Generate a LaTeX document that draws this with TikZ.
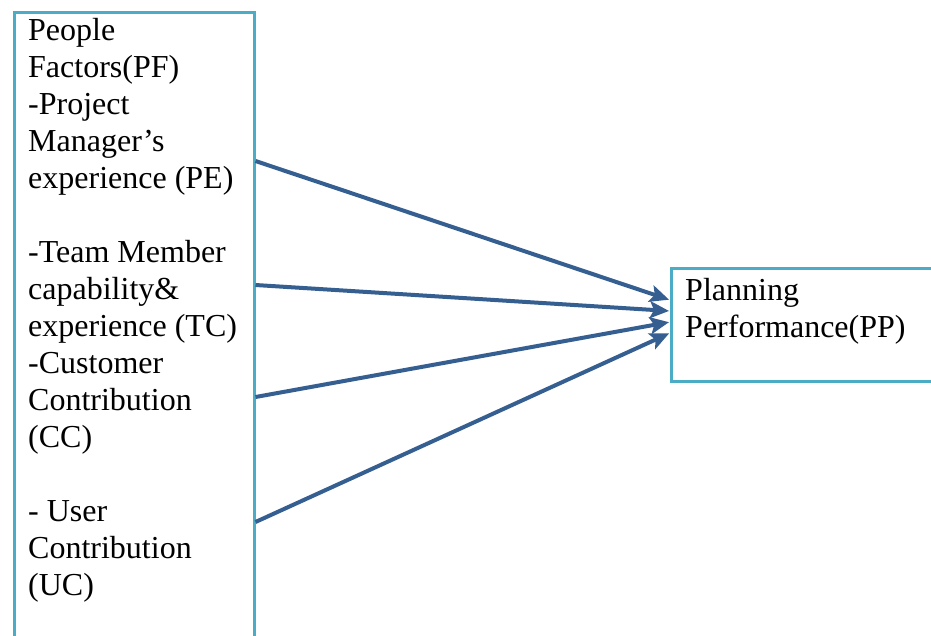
\documentclass[tikz,border=0pt]{standalone}
\usepackage{fontspec}
\setmainfont{Liberation Serif}
\usetikzlibrary{arrows.meta,positioning}
\definecolor{boxblue}{RGB}{75,172,198}
\definecolor{arrowblue}{RGB}{54,95,145}
\tikzset{
	every node/.style={
		font=\fontsize{32}{37}\selectfont
	},
	factorbox/.style={
		shape=rectangle,
		draw=boxblue,
		line width=2.5pt,
		anchor=north west,
	},
	boxtext/.style={
		align=left,
		anchor=north west,
		inner sep=0pt,
	},
	myarrow/.style={
		-{Stealth[length=19pt,width=17pt,inset=4pt]},
		draw=arrowblue,
		line width=4pt,
		shorten >=1pt,
	},
}

\begin{document}
\begin{tikzpicture}[x=1pt,y=-1pt]
	\useasboundingbox[fill=white] (0,0) rectangle (931,635);
	\clip (0,0) rectangle (931,635);
	
	% Cajas
	\node[factorbox, minimum width=240pt, minimum height=700pt] (pf) at (13,11) {};
	\node[factorbox, minimum width=300pt, minimum height=113pt] (pp) at (670,267) {};
	
	% Textos
	\node[boxtext] (pftext) at ([xshift=15pt,yshift=-7pt]pf.north west)
		{People\\Factors(PF)\\-Project\\Manager’s\\experience (PE)\\[37pt]
		-Team Member\\capability\&\\experience (TC)\\-Customer\\Contribution\\(CC)\\[37pt]
		- User\\Contribution\\(UC)};
	\node[boxtext] (pptext) at ([xshift=15pt,yshift=-11pt]pp.north west)
		{Planning\\Performance(PP)};
	
	% Puntos de salida y llegada
	\coordinate (pe) at ([yshift=-150pt]pf.north east);
	\coordinate (tc) at ([yshift=-274pt]pf.north east);
	\coordinate (cc) at ([yshift=-386pt]pf.north east);
	\coordinate (uc) at ([yshift=-511pt]pf.north east);
	\coordinate (in1) at ([yshift=-33pt]pp.north west);
	\coordinate (in2) at ([yshift=-44pt]pp.north west);
	\coordinate (in3) at ([yshift=-55pt]pp.north west);
	\coordinate (in4) at ([yshift=-66pt]pp.north west);
	
	\draw[myarrow] (pe) -- (in1);
	\draw[myarrow] (tc) -- (in2);
	\draw[myarrow] (cc) -- (in3);
	\draw[myarrow] (uc) -- (in4);
	
\end{tikzpicture}
\end{document}
